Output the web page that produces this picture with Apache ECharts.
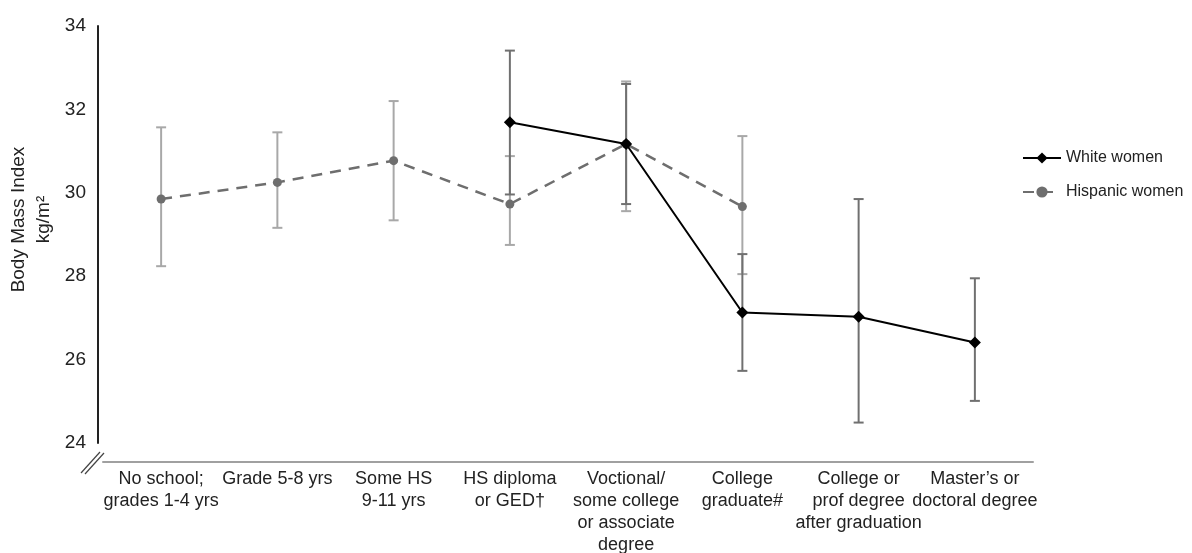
<!DOCTYPE html>
<html>
<head>
<meta charset="utf-8">
<script src="https://cdn.jsdelivr.net/npm/echarts@6/dist/echarts.min.js"></script>
<style>
html,body{margin:0;padding:0;background:#fff;}
#chart{width:1192px;height:553px;}
</style>
</head>
<body>
<div id="chart"></div>
<script>
const categories = [
  'No school;\ngrades 1-4 yrs',
  'Grade 5-8 yrs',
  'Some HS\n9-11 yrs',
  'HS diploma\nor GED\u2020',
  'Voctional/\nsome college\nor associate\ndegree',
  'College\ngraduate#',
  'College or\nprof degree\nafter graduation',
  'Master\u2019s or\ndoctoral degree'
];
const yTicks = [24, 26, 28, 30, 32, 34];

const hispanicMean = [29.85, 30.25, 30.77, 29.73, 31.17, 29.67, null, null];
const hispanicLow  = [28.24, 29.16, 29.34, 28.75, 29.56, 28.05, null, null];
const hispanicHigh = [31.57, 31.45, 32.20, 30.88, 32.67, 31.36, null, null];

const whiteMean = [null, null, null, 31.69, 31.17, 27.13, 27.03, 26.41];
const whiteLow  = [null, null, null, 29.96, 29.73, 25.73, 24.49, 25.01];
const whiteHigh = [null, null, null, 33.41, 32.61, 28.53, 29.85, 27.95];

const FONT = '"Liberation Sans", Arial, Helvetica, sans-serif';

function errData(low, high) {
  const out = [];
  for (let i = 0; i < low.length; i++) {
    if (low[i] != null && high[i] != null) out.push([i, low[i], high[i]]);
  }
  return out;
}

function errRenderer(color) {
  return function (params, api) {
    const x = api.value(0);
    const lo = api.coord([x, api.value(1)]);
    const hi = api.coord([x, api.value(2)]);
    const cap = 5;
    const style = { stroke: color, lineWidth: 2 };
    return {
      type: 'group',
      children: [
        { type: 'line', shape: { x1: lo[0], y1: lo[1], x2: hi[0], y2: hi[1] }, style: style },
        { type: 'line', shape: { x1: lo[0] - cap, y1: lo[1], x2: lo[0] + cap, y2: lo[1] }, style: style },
        { type: 'line', shape: { x1: hi[0] - cap, y1: hi[1], x2: hi[0] + cap, y2: hi[1] }, style: style }
      ]
    };
  };
}

const chart = echarts.init(document.getElementById('chart'), null, { renderer: 'canvas' });
chart.setOption({
  animation: false,
  backgroundColor: '#ffffff',
  textStyle: { fontFamily: FONT },
  grid: { left: 103, top: 26, width: 930, height: 417, containLabel: false, outerBoundsMode: 'none' },
  legend: {
    orient: 'vertical',
    left: 1017,
    top: 145,
    itemWidth: 38,
    itemHeight: 14,
    itemGap: 18,
    data: ['White women', 'Hispanic women'],
    textStyle: { fontFamily: FONT, fontSize: 16, color: '#222' }
  },
  xAxis: {
    type: 'category',
    data: categories,
    boundaryGap: true,
    offset: 19,
    axisLine: { show: true, lineStyle: { color: '#a0a0a0', width: 2 } },
    axisTick: { show: false },
    axisLabel: {
      interval: 0,
      margin: 6,
      fontFamily: FONT,
      fontSize: 18,
      lineHeight: 22,
      color: '#222'
    }
  },
  yAxis: {
    type: 'value',
    min: yTicks[0],
    max: yTicks[yTicks.length - 1],
    interval: 2,
    offset: 5,
    splitLine: { show: false },
    axisTick: { show: false },
    axisLine: { show: true, lineStyle: { color: '#222', width: 2 } },
    axisLabel: { margin: 12, fontFamily: FONT, fontSize: 19, color: '#222' },
    name: 'Body Mass Index\nkg/m\u00b2',
    nameLocation: 'middle',
    nameRotate: 90,
    nameGap: 42,
    nameMoveOverlap: false,
    nameTextStyle: { fontFamily: FONT, fontSize: 19, lineHeight: 25, color: '#222', padding: [0, 0, 0, 30] }
  },
  series: [
    {
      name: 'Hispanic error',
      type: 'custom',
      renderItem: errRenderer('#a8a8a8'),
      data: errData(hispanicLow, hispanicHigh),
      encode: { x: 0, y: [1, 2] },
      z: 1,
      silent: true
    },
    {
      name: 'White error',
      type: 'custom',
      renderItem: errRenderer('#707070'),
      data: errData(whiteLow, whiteHigh),
      encode: { x: 0, y: [1, 2] },
      z: 1,
      silent: true
    },
    {
      name: 'Hispanic women',
      type: 'line',
      data: hispanicMean,
      symbol: 'circle',
      symbolSize: 9,
      connectNulls: false,
      lineStyle: { color: '#6e6e6e', width: 2.5, type: [11, 8] },
      itemStyle: { color: '#6e6e6e' },
      z: 3
    },
    {
      name: 'White women',
      type: 'line',
      data: whiteMean,
      symbol: 'diamond',
      symbolSize: 12,
      connectNulls: false,
      lineStyle: { color: '#000', width: 2 },
      itemStyle: { color: '#000' },
      z: 4
    }
  ],
  graphic: [
    { type: 'line', shape: { x1: 81, y1: 473, x2: 100, y2: 452 }, style: { stroke: '#444', lineWidth: 1.2 } },
    { type: 'line', shape: { x1: 85, y1: 474, x2: 104, y2: 453 }, style: { stroke: '#444', lineWidth: 1.2 } }
  ]
});
</script>
</body>
</html>
